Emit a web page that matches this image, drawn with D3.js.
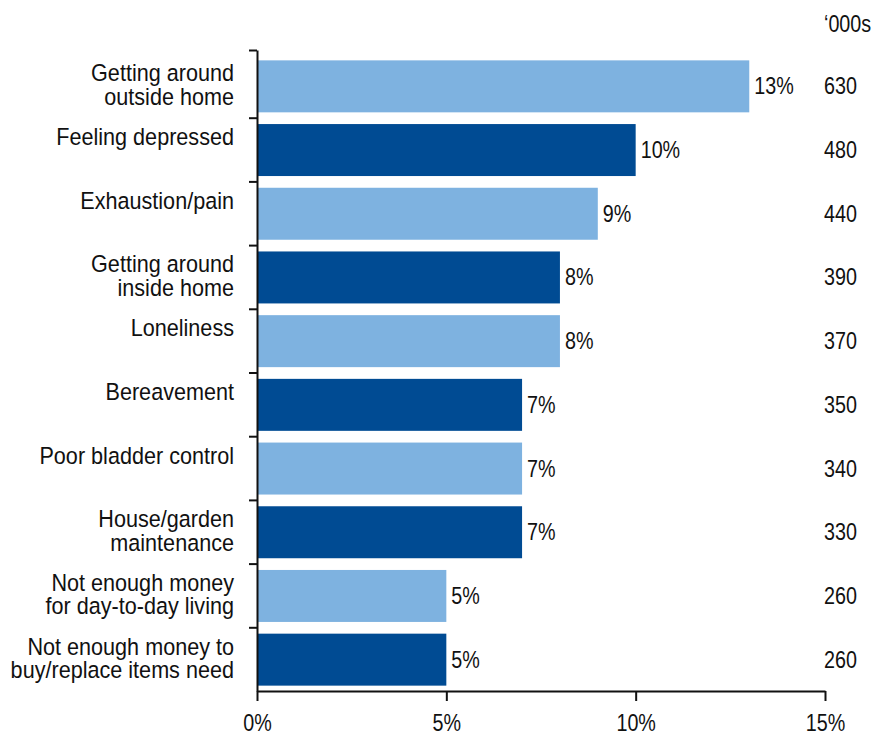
<!DOCTYPE html>
<html>
<head>
<meta charset="utf-8">
<script src="https://cdn.jsdelivr.net/npm/d3@7"></script>
<style>
  body { margin: 0; background: #fff; }
  svg text { font-family: "Liberation Sans", Arial, sans-serif; fill: #111; }
</style>
</head>
<body>
<svg id="chart" width="873" height="735"></svg>
<script>
// ---- data ----
const categories = [
  ["Getting around", "outside home"],
  ["Feeling depressed"],
  ["Exhaustion/pain"],
  ["Getting around", "inside home"],
  ["Loneliness"],
  ["Bereavement"],
  ["Poor bladder control"],
  ["House/garden", "maintenance"],
  ["Not enough money", "for day-to-day living"],
  ["Not enough money to", "buy/replace items need"]
];
const percentValues = [13, 10, 9, 8, 8, 7, 7, 7, 5, 5];
const thousandsValues = [630, 480, 440, 390, 370, 350, 340, 330, 260, 260];
const xTicks = [0, 5, 10, 15];
const unitLabel = "\u2018000s";

// ---- layout ----
const colors = ["#7EB2E0", "#004B93"];
const svg = d3.select("#chart");
const fontSize = 23.5;
const sxText = 0.92;   // horizontal condensing for words
const sxNum = 0.84;    // horizontal condensing for figures

const x = d3.scaleLinear().domain([0, 15]).range([257, 825]);
const idx = d3.range(categories.length);
const y = d3.scaleBand().domain(idx).range([54, 691]).paddingInner(0.184).paddingOuter(0.092);

const place = (px, py, s) => `translate(${px},${py}) scale(${s},1)`;

// bars
svg.append("g").selectAll("rect").data(idx).join("rect")
  .attr("x", x(0))
  .attr("y", i => y(i) + 0.5)
  .attr("width", i => x(percentValues[i]) - x(0))
  .attr("height", y.bandwidth())
  .attr("fill", i => colors[i % 2]);

// value labels
svg.append("g").selectAll("text").data(idx).join("text")
  .attr("transform", i => place(x(percentValues[i]) + 5, y(i) + y.bandwidth() / 2 + 8.5, sxNum))
  .attr("font-size", fontSize)
  .text(i => percentValues[i] + "%");

// thousands column
svg.append("g").selectAll("text").data(idx).join("text")
  .attr("transform", i => place(824, y(i) + y.bandwidth() / 2 + 8.5, sxNum))
  .attr("font-size", fontSize)
  .text(i => thousandsValues[i]);

svg.append("text")
  .attr("transform", place(824, 32, sxNum))
  .attr("font-size", fontSize)
  .text(unitLabel);

// category labels
const lab = svg.append("g").selectAll("text").data(idx).join("text")
  .attr("text-anchor", "end")
  .attr("font-size", fontSize)
  .attr("transform", i => place(234, y(i) + y.bandwidth() / 2 + 0.5, sxText));
lab.each(function(i) {
  d3.select(this).selectAll("tspan").data(categories[i]).join("tspan")
    .attr("x", 0)
    .attr("y", (d, k) => -5 + k * 23.5)
    .text(d => d);
});

// x axis
const xAxis = d3.axisBottom(x).tickValues(xTicks).tickSize(10).tickSizeOuter(0).tickPadding(13)
  .tickFormat(d => d + "%");
const gx = svg.append("g").attr("transform", "translate(0,691)").call(xAxis);
gx.select(".domain").attr("stroke", "#111").attr("stroke-width", 2);
gx.selectAll(".tick line").attr("stroke", "#111").attr("stroke-width", 2);
gx.selectAll(".tick text").attr("font-size", fontSize).attr("fill", "#111")
  .attr("font-family", null).attr("transform", `scale(${sxNum},1)`);

// y axis (category boundary ticks)
const boundaries = idx.slice(1).map(i => y(i) - y.step() * y.paddingInner() / 2);
const yScaleTicks = d3.scaleLinear().domain([50, 691]).range([50, 691]);
const yAxis = d3.axisLeft(yScaleTicks).tickValues([50].concat(boundaries)).tickSize(8).tickSizeOuter(0).tickFormat("");
const gy = svg.append("g").attr("transform", "translate(257,0)").call(yAxis);
gy.select(".domain").attr("stroke", "#111").attr("stroke-width", 2);
gy.selectAll(".tick line").attr("stroke", "#111").attr("stroke-width", 2);
</script>
</body>
</html>
